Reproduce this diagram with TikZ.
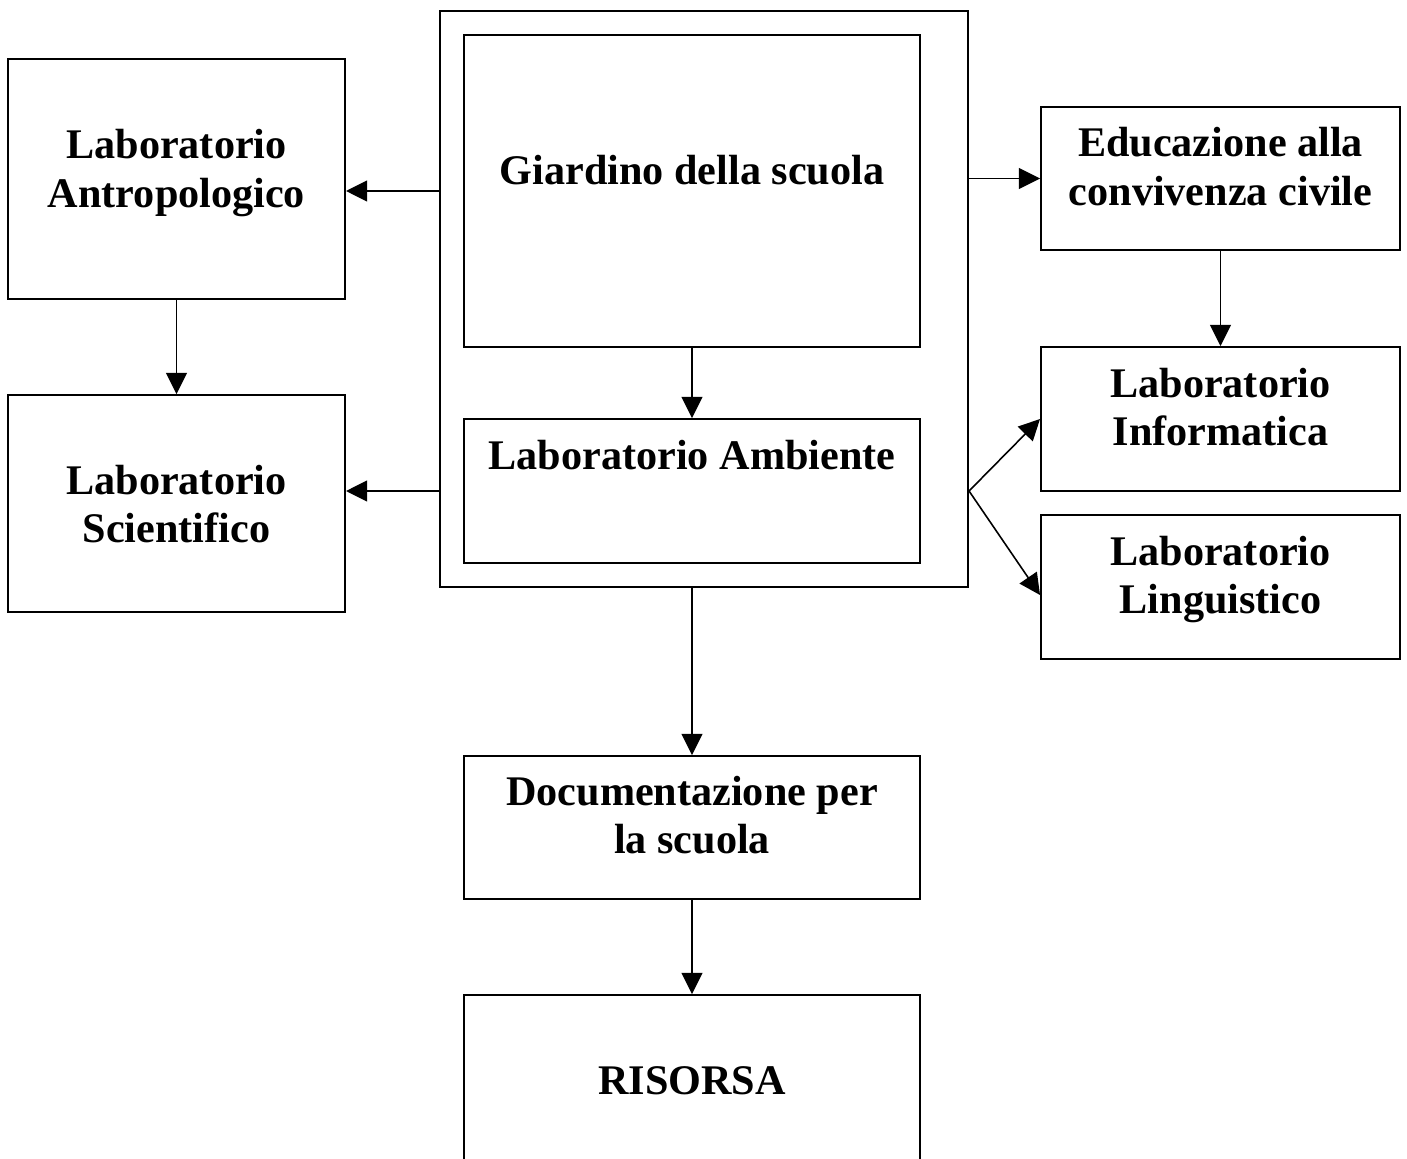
\documentclass[tikz,border=0pt]{standalone}
\usepackage{fontspec}
\setmainfont{Liberation Serif}
\usetikzlibrary{arrows.meta}
\tikzset{
  box/.style={draw, line width=0.5pt, rectangle, inner sep=0pt, anchor=center},
  lbl/.style={inner sep=0pt, anchor=base, font=\fontsize{12}{13.8}\selectfont\bfseries},
  arr/.style={line width=0.45pt, -{Triangle[length=6pt,width=5.9pt]}},
  ln/.style={line width=0.45pt}
}
\newcommand{\twol}[2]{\begin{tabular}[t]{@{}c@{}}#1\\#2\end{tabular}}
\begin{document}
\begin{tikzpicture}[x=0.01cm,y=-0.01cm]
\useasboundingbox (0,0) rectangle (1407,1158);
% boxes
\node[box, minimum width=3.37cm, minimum height=2.40cm] (A) at (176.5,179) {};
\node[box, minimum width=3.37cm, minimum height=2.17cm] (S) at (176.5,503.5) {};
\node[box, minimum width=5.28cm, minimum height=5.76cm] (outer) at (704,299) {};
\node[box, minimum width=4.56cm, minimum height=3.12cm] (G) at (692,191) {};
\node[box, minimum width=4.56cm, minimum height=1.44cm] (Amb) at (692,491) {};
\node[box, minimum width=3.59cm, minimum height=1.43cm] (Edu) at (1220.5,178.5) {};
\node[box, minimum width=3.59cm, minimum height=1.44cm] (Info) at (1220.5,419) {};
\node[box, minimum width=3.59cm, minimum height=1.44cm] (Ling) at (1220.5,587) {};
\node[box, minimum width=4.56cm, minimum height=1.43cm] (Doc) at (692,827.5) {};
\node[box, minimum width=4.56cm, minimum height=1.80cm] (Ris) at (692,1085) {};
% labels
\node[lbl] (tA) at (176.5,159) {\twol{Laboratorio}{Antropologico}};
\node[lbl] (tS) at (176.5,494) {\twol{Laboratorio}{Scientifico}};
\node[lbl] (tG) at (692,185) {Giardino della scuola};
\node[lbl] (tAmb) at (692,469) {Laboratorio Ambiente};
\node[lbl] (tEdu) at (1220.5,157) {\twol{Educazione alla}{convivenza civile}};
\node[lbl] (tInfo) at (1220.5,397) {\twol{Laboratorio}{Informatica}};
\node[lbl] (tLing) at (1220.5,565) {\twol{Laboratorio}{Linguistico}};
\node[lbl] (tDoc) at (692,805) {\twol{Documentazione per}{la scuola}};
\node[lbl] (tRis) at (692,1094) {RISORSA};
% connectors
\coordinate (lo1) at (outer.west |- G.center);
\coordinate (lo2) at (outer.west |- Amb.center);
\coordinate (ro1) at (outer.east |- Edu.west);
\coordinate (ro2) at (outer.east |- Amb.center);
\coordinate (lingtip) at ([yshift=-0.08cm]Ling.west);
\draw[arr] (lo1) -- (A.east |- lo1);
\draw[arr] (lo2) -- (S.east |- lo2);
\draw[arr] (A.south) -- (S.north);
\draw[arr] (G.south) -- (Amb.north);
\draw[arr] (ro1) -- (Edu.west);
\draw[arr] (Edu.south) -- (Info.north);
\draw[arr] (ro2) -- (Info.west);
\draw[arr] (ro2) -- (lingtip);
\draw[arr] (outer.south -| Doc.north) -- (Doc.north);
\draw[arr] (Doc.south) -- (Ris.north);
\end{tikzpicture}
\end{document}
